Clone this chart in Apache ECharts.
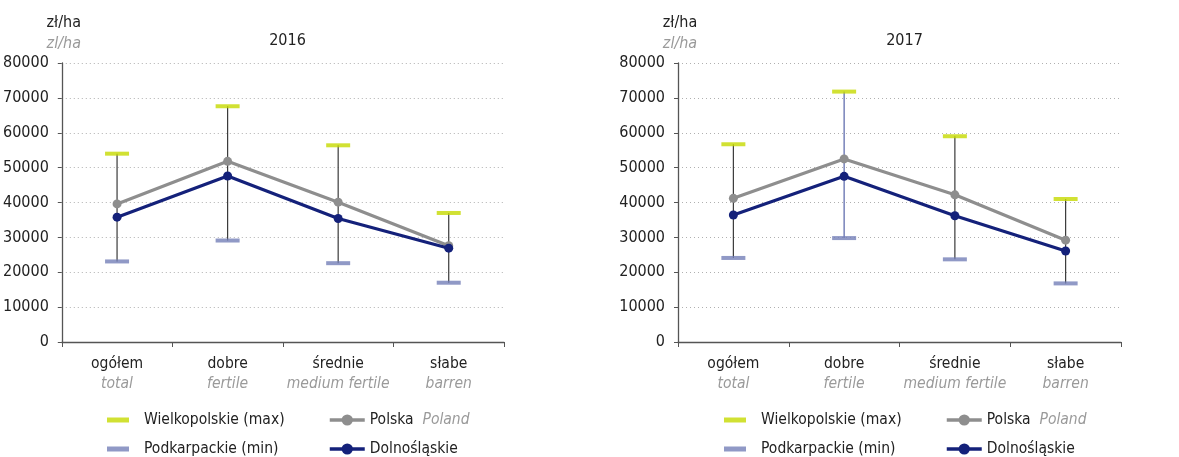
<!DOCTYPE html>
<html><head><meta charset="utf-8">
<script src="https://cdn.jsdelivr.net/npm/echarts@6/dist/echarts.min.js"></script>
<style>html,body{margin:0;padding:0;background:#fff}#c{width:1179px;height:457px}</style>
</head><body><div id="c"></div>
<script>
const categoriesPL = ['ogółem','dobre','średnie','słabe'];
const categoriesEN = ['total','fertile','medium fertile','barren'];
const yTicks = [0,10000,20000,30000,40000,50000,60000,70000,80000];
const years = ['2016','2017'];

const max2016 = [54000,67600,56400,37000];
const min2016 = [23100,29100,22600,17000];
const polska2016 = [39600,51800,40100,27600];
const dolny2016 = [35800,47600,35400,26900];

const max2017 = [56700,71800,59000,41000];
const min2017 = [24100,29800,23700,16800];
const polska2017 = [41200,52500,42200,29200];
const dolny2017 = [36400,47500,36200,26100];

const FONT = '"Liberation Sans Narrow","DejaVu Sans Condensed","Roboto Condensed","Arial Narrow",sans-serif';
const FS = 15.5;
const C_MAX = '#c5d900', C_MIN = '#7480b8', C_PL = '#8e8e8e', C_DOL = '#14217a';

const chart = echarts.init(document.getElementById('c'), null, {renderer:'canvas'});
const gridLefts = [61, 678];
const W = 443;
const dataSets = [
  {max:max2016,min:min2016,pl:polska2016,dol:dolny2016},
  {max:max2017,min:min2017,pl:polska2017,dol:dolny2017}
];
const baseText = {fontFamily:FONT,fontSize:FS,color:'#222'};

const grids=[], xAxes=[], yAxes=[], series=[], titles=[], legends=[];
years.forEach((yr,k)=>{
  const L = gridLefts[k];
  grids.push({left:L, top:63, width:W, height:279});
  titles.push({text:yr, left:L+W/2, top:28, textAlign:'center',
    textStyle:Object.assign({fontWeight:'normal'}, baseText, {fontSize:16})});
  xAxes.push({type:'category', gridIndex:k, data:categoriesPL,
    axisLine:{lineStyle:{color:'#555',width:1.3}},
    axisTick:{show:true,length:5,lineStyle:{color:'#555'}},
    axisLabel:{interval:0, margin:12, fontFamily:FONT, fontSize:FS, color:'#222', lineHeight:20,
      formatter:(v,i)=> v + '\n{i|' + categoriesEN[i] + '}',
      rich:{i:{fontFamily:FONT,fontSize:FS,fontStyle:'italic',color:'#9a9a9a',lineHeight:20}}}
  });
  yAxes.push({type:'value', gridIndex:k, min:yTicks[0], max:yTicks[yTicks.length-1], interval:10000,
    name:'{a|zł/ha}\n{b|zl/ha}', nameLocation:'end', nameGap:9,
    nameTextStyle:{align:'center', verticalAlign:'bottom', padding:[0,0,0,4],
      rich:{a:{fontFamily:FONT,fontSize:16,color:'#222',lineHeight:21},
            b:{fontFamily:FONT,fontSize:16,fontStyle:'italic',color:'#9a9a9a',lineHeight:21}}},
    axisLine:{show:true,lineStyle:{color:'#555',width:1.3}},
    axisTick:{show:true,length:4,lineStyle:{color:'#555'}},
    axisLabel:{margin:13, fontFamily:FONT, fontSize:16, color:'#222', formatter:v=>String(v)},
    splitLine:{show:true,lineStyle:{color:'#b0b0b0',type:[1,3],width:1}}
  });
  const d = dataSets[k];
  series.push({type:'custom', name:'whisker'+k, xAxisIndex:k, yAxisIndex:k, z:2, silent:true,
    data: categoriesPL.map((c,i)=>[i, d.min[i], d.max[i]]),
    renderItem:(params, api)=>{
      const p1 = api.coord([api.value(0), api.value(1)]);
      const p2 = api.coord([api.value(0), api.value(2)]);
      const col = (k===1 && params.dataIndex===1) ? '#5563a8' : '#3a3a3a';
      return {type:'line', shape:{x1:p1[0],y1:p1[1],x2:p2[0],y2:p2[1]},
        style:{stroke:col, lineWidth:1.2}};
    }});
  series.push({type:'scatter', name:'Wielkopolskie (max)', xAxisIndex:k, yAxisIndex:k, z:3,
    symbol:'rect', symbolSize:[24,4], itemStyle:{color:C_MAX}, data:d.max});
  series.push({type:'scatter', name:'Podkarpackie (min)', xAxisIndex:k, yAxisIndex:k, z:3,
    symbol:'rect', symbolSize:[24,4], itemStyle:{color:C_MIN}, data:d.min});
  series.push({type:'line', name:'Polska', xAxisIndex:k, yAxisIndex:k, z:5,
    symbol:'circle', symbolSize:9, lineStyle:{color:C_PL,width:3.2}, itemStyle:{color:C_PL}, data:d.pl});
  series.push({type:'line', name:'Dolnośląskie', xAxisIndex:k, yAxisIndex:k, z:6,
    symbol:'circle', symbolSize:9, lineStyle:{color:C_DOL,width:3.2}, itemStyle:{color:C_DOL}, data:d.dol});

  const rows = [410, 439];
  ['Wielkopolskie (max)','Podkarpackie (min)'].forEach((n,r)=>{
    legends.push({left:L+46, top:rows[r], itemWidth:22, itemHeight:5, icon:'rect', selectedMode:false,
      padding:0, data:[n],
      textStyle:{fontFamily:FONT,fontSize:FS,color:'#222',lineHeight:20,padding:[0,0,0,10]}});
  });
  ['Polska','Dolnośląskie'].forEach((n,r)=>{
    legends.push({left:L+267, top:rows[r], itemWidth:35, itemHeight:14, selectedMode:false,
      padding:0, data:[n], lineStyle:{width:3.5},
      formatter:n => n==='Polska' ? 'Polska  {i|Poland}' : n,
      textStyle:{fontFamily:FONT,fontSize:FS,color:'#222',lineHeight:20,
        rich:{i:{fontFamily:FONT,fontSize:FS,fontStyle:'italic',color:'#9a9a9a'}}}});
  });
});

chart.setOption({animation:false, title:titles, grid:grids, xAxis:xAxes, yAxis:yAxes,
  legend:legends, series:series});
</script></body></html>
